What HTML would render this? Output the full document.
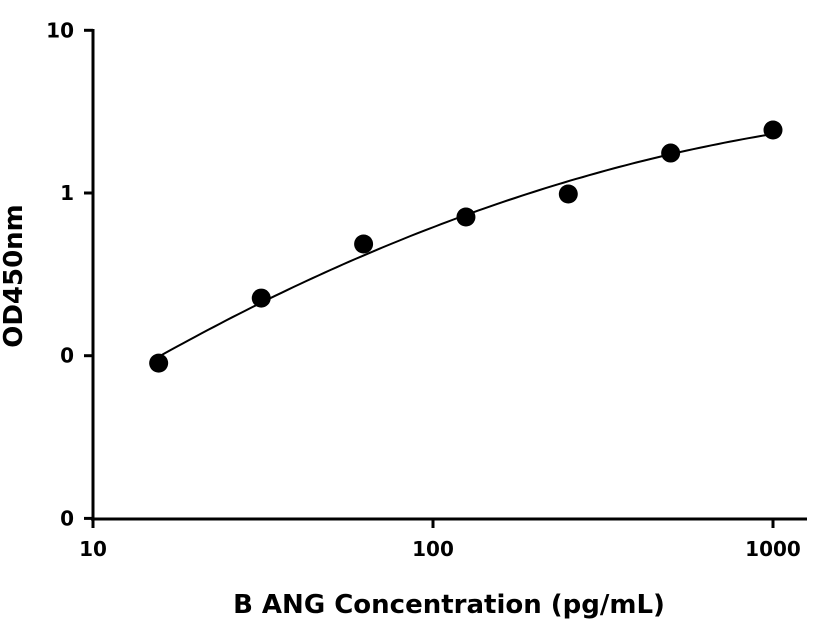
<!DOCTYPE html>
<html><head><meta charset="utf-8"><style>
body{margin:0;background:#fff}
svg{display:block;font-family:"DejaVu Sans","Liberation Sans",sans-serif;font-weight:bold}
</style></head><body>
<svg id="chart" width="816" height="640" viewBox="0 0 816 640">
<g id="axes"></g>
<g id="plot"></g>
<text x="22" y="276" font-size="26" text-anchor="middle" transform="rotate(-90 22 276)">OD450nm</text>
<text x="449" y="613" font-size="26" text-anchor="middle">B ANG Concentration (pg/mL)</text>
</svg>
<script>
const concentrations=[15.6,31.25,62.5,125,250,500,1000];
const odValues=[0.09,0.226,0.486,0.712,0.986,1.76,2.44];
const xTicks=[10,100,1000];
const xTickLabels=["10","100","1000"];
const yTicks=[0.01,0.1,1,10];
const yTickLabels=["0","0","1","10"];
const NS="http://www.w3.org/2000/svg";
function xs(v){return 93+(Math.log10(v)-1)*340;}
function ys(v){return 193-Math.log10(v)*162.7;}
function mk(tag,attrs,parent){const e=document.createElementNS(NS,tag);for(const k in attrs)e.setAttribute(k,attrs[k]);parent.appendChild(e);return e;}
const axes=document.getElementById('axes'),plot=document.getElementById('plot');
let l=mk('line',{x1:93,y1:29,x2:93,y2:521,stroke:'#000','stroke-width':3},axes);


l=mk('line',{x1:91,y1:519,x2:807,y2:519,stroke:'#000','stroke-width':3},axes);


yTicks.forEach((v,i)=>{const y=ys(v);
const t=mk('line',{x1:84,y1:y,x2:93,y2:y,stroke:'#000','stroke-width':3},axes);


const tx=mk('text',{x:74,y:y+7,'font-size':20,'text-anchor':'end'},axes);tx.textContent=yTickLabels[i];

});
xTicks.forEach((v,i)=>{const x=xs(v);
const t=mk('line',{x1:x,y1:519,x2:x,y2:528,stroke:'#000','stroke-width':3},axes);


const tx=mk('text',{x:x,y:556,'font-size':20,'text-anchor':'middle'},axes);tx.textContent=xTickLabels[i];

});
// quadratic fit in log-log space
const X=concentrations.map(Math.log10),Y=odValues.map(Math.log10);
let S=[0,0,0,0,0],T=[0,0,0];
X.forEach((x,i)=>{for(let k=0;k<5;k++)S[k]+=x**k;for(let k=0;k<3;k++)T[k]+=Y[i]*x**k;});
const M=[[S[0],S[1],S[2],T[0]],[S[1],S[2],S[3],T[1]],[S[2],S[3],S[4],T[2]]];
for(let i=0;i<3;i++){for(let j=i+1;j<3;j++){const f=M[j][i]/M[i][i];for(let k=i;k<4;k++)M[j][k]-=f*M[i][k];}}
const c=[0,0,0];for(let i=2;i>=0;i--){let s=M[i][3];for(let k=i+1;k<3;k++)s-=M[i][k]*c[k];c[i]=s/M[i][i];}
let d='';const x0=X[0],x1=X[X.length-1];
for(let i=0;i<=100;i++){const lx=x0+(x1-x0)*i/100;const ly=c[0]+c[1]*lx+c[2]*lx*lx;
d+=(i?'L':'M')+xs(10**lx).toFixed(1)+','+ys(10**ly).toFixed(1);}
const p=mk('path',{d:d,fill:'none',stroke:'#000','stroke-width':2},plot);


concentrations.forEach((v,i)=>{const ci=mk('circle',{cx:xs(v),cy:ys(odValues[i]),r:9.5,fill:'#000'},plot);

});
</script>
</body></html>
